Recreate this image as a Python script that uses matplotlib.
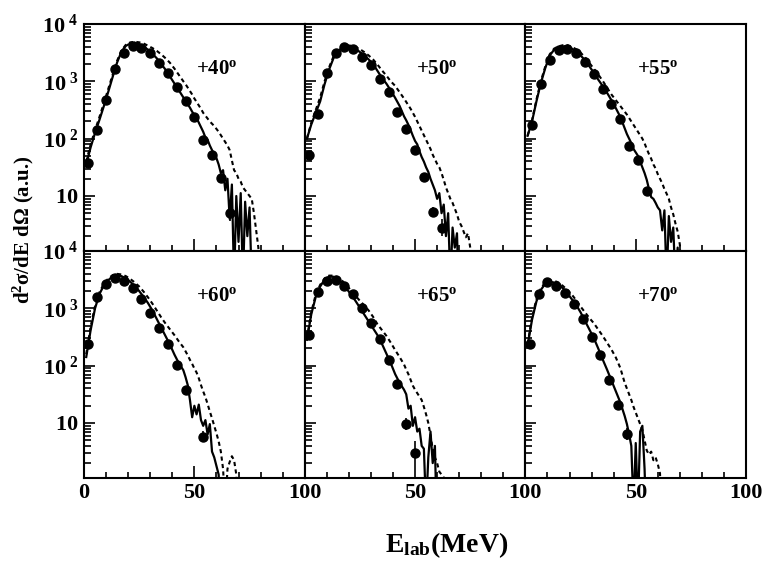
import numpy as np
import matplotlib.pyplot as plt
from matplotlib.ticker import FixedLocator, MultipleLocator, LogLocator, NullFormatter

plt.rcParams['font.family'] = ['Liberation Serif', 'DejaVu Serif']
plt.rcParams['font.weight'] = 'bold'
plt.rcParams['mathtext.fontset'] = 'custom'
plt.rcParams['mathtext.rm'] = 'Liberation Serif:bold'
plt.rcParams['mathtext.it'] = 'Liberation Serif:bold'
plt.rcParams['mathtext.bf'] = 'Liberation Serif:bold'

# ---------------- data (log10 of cross section) ----------------
ANGLES = ['+40', '+50', '+55', '+60', '+65', '+70']

# energy grid of the calculated spectra (MeV): 2 MeV steps, then 1 MeV in the tails
E_LINE = [1, 3, 5, 7, 9, 11, 13, 15, 17, 19, 21,
          23, 25, 27, 29, 31, 33, 35, 37, 39, 41, 43,
          45, 46, 47, 48, 49, 50, 51, 52, 53, 54,
          55, 56, 57, 58, 59, 60, 61, 62, 63, 64,
          65, 66, 67, 68, 69, 70, 71, 72, 73, 74,
          75, 76, 77, 78, 79, 80]

# +40 deg
E_DAT_40 = [2, 6, 10, 14, 18, 22, 26, 30, 34, 38, 42, 46, 50, 54, 58, 62, 66]
LG_DAT_40 = [1.58, 2.15, 2.67, 3.22, 3.50, 3.61, 3.585, 3.50, 3.32, 3.15, 2.90,
             2.65, 2.37, 1.98, 1.71, 1.32, 0.71]
ERR_40 = [0.03, 0.03, 0.03, 0.03, 0.03, 0.03, 0.03, 0.03, 0.03, 0.03, 0.03,
          0.03, 0.03, 0.03, 0.04, 0.05, 0.15]
LG_SOL_40 = [1.55, 1.85, 2.10, 2.33, 2.57, 2.82, 3.08, 3.33, 3.52, 3.62, 3.66,
             3.67, 3.65, 3.61, 3.55, 3.48, 3.40, 3.30, 3.20, 3.08, 2.96, 2.84,
             2.72, 2.66, 2.60, 2.54, 2.47, 2.41, 2.36, 2.28, 2.20, 2.12,
             2.02, 1.98, 1.88, 1.80, 1.72, 1.66, 1.55, 1.40, 1.45, 1.10,
             1.30, 0.60, 1.20, -0.5, 1.00, 0.20, 1.05, -0.5, 0.90, 0.30,
             0.80, -0.5, -1]
LG_DSH_40 = [1.60, 1.90, 2.15, 2.38, 2.62, 2.87, 3.12, 3.36, 3.54, 3.64, 3.68,
             3.69, 3.68, 3.66, 3.62, 3.58, 3.53, 3.47, 3.40, 3.32, 3.22, 3.11,
             3.00, 2.95, 2.89, 2.83, 2.77, 2.70, 2.64, 2.58, 2.52, 2.45,
             2.40, 2.35, 2.30, 2.26, 2.22, 2.17, 2.12, 2.06, 2.00, 1.94,
             1.88, 1.80, 1.62, 1.45, 1.40, 1.30, 1.25, 1.15, 1.10, 1.05,
             1.00, 0.95, 0.70, 0.40, 0.10, -1]

# +50 deg
E_DAT_50 = [2, 6, 10, 14, 18, 22, 26, 30, 34, 38, 42, 46, 50, 54, 58, 62]
LG_DAT_50 = [1.72, 2.43, 3.15, 3.49, 3.59, 3.56, 3.43, 3.29, 3.04, 2.81, 2.47,
             2.17, 1.81, 1.33, 0.72, 0.45]
ERR_50 = [0.03, 0.03, 0.03, 0.03, 0.03, 0.03, 0.03, 0.03, 0.03, 0.03, 0.03,
          0.03, 0.03, 0.05, 0.08, 0.15]
LG_SOL_50 = [2.00, 2.25, 2.45, 2.65, 2.95, 3.20, 3.40, 3.52, 3.59, 3.61, 3.60,
             3.57, 3.51, 3.45, 3.38, 3.30, 3.18, 3.06, 2.96, 2.84, 2.71, 2.57,
             2.39, 2.32, 2.24, 2.15, 2.05, 1.96, 1.90, 1.78, 1.68, 1.60,
             1.50, 1.42, 1.30, 1.20, 1.10, 0.95, 1.05, 0.70, 0.85, 0.30,
             0.70, -0.5, 0.45, 0.10, 0.35, -1]
LG_DSH_50 = [2.00, 2.28, 2.50, 2.72, 3.00, 3.24, 3.43, 3.55, 3.61, 3.63, 3.62,
             3.60, 3.56, 3.51, 3.45, 3.38, 3.29, 3.19, 3.10, 3.00, 2.92, 2.81,
             2.70, 2.64, 2.58, 2.52, 2.45, 2.38, 2.30, 2.22, 2.14, 2.06,
             1.98, 1.90, 1.82, 1.72, 1.64, 1.56, 1.50, 1.40, 1.28, 1.15,
             1.05, 0.95, 0.88, 0.78, 0.68, 0.55, 0.48, 0.38, 0.28, 0.35,
             0.10, -1]

# +55 deg
E_DAT_55 = [3, 7, 11, 15, 19, 23, 27, 31, 35, 39, 43, 47, 51, 55]
LG_DAT_55 = [2.23, 2.96, 3.37, 3.54, 3.57, 3.49, 3.34, 3.12, 2.87, 2.60, 2.35,
             1.88, 1.63, 1.09]
ERR_55 = [0.03, 0.03, 0.03, 0.03, 0.03, 0.03, 0.03, 0.03, 0.03, 0.03, 0.03,
          0.03, 0.03, 0.05]
LG_SOL_55 = [2.05, 2.30, 2.65, 2.97, 3.23, 3.45, 3.55, 3.59, 3.61, 3.61, 3.57,
             3.52, 3.45, 3.37, 3.26, 3.15, 3.03, 2.92, 2.80, 2.67, 2.53, 2.38,
             2.18, 2.08, 2.00, 1.92, 1.82, 1.76, 1.70, 1.60, 1.50, 1.40,
             1.28, 1.12, 0.98, 0.95, 0.88, 0.80, 0.75, 0.40, 0.75, -0.5,
             0.65, 0.20, 0.45, -0.5, 0.10, -1]
LG_DSH_55 = [2.05, 2.32, 2.68, 3.00, 3.26, 3.47, 3.57, 3.61, 3.63, 3.63, 3.60,
             3.56, 3.50, 3.42, 3.32, 3.22, 3.12, 3.01, 2.89, 2.77, 2.67, 2.57,
             2.47, 2.42, 2.36, 2.30, 2.24, 2.18, 2.12, 2.06, 2.00, 1.92,
             1.82, 1.73, 1.65, 1.55, 1.48, 1.38, 1.30, 1.22, 1.12, 1.04,
             0.95, 0.80, 0.68, 0.52, 0.38, 0.15, -1]

# +60 deg
E_DAT_60 = [2, 6, 10, 14, 18, 22, 26, 30, 34, 38, 42, 46, 54]
LG_DAT_60 = [2.38, 3.20, 3.43, 3.53, 3.48, 3.35, 3.16, 2.92, 2.65, 2.37, 2.01,
             1.58, 0.76]
ERR_60 = [0.03, 0.03, 0.03, 0.03, 0.03, 0.03, 0.03, 0.03, 0.03, 0.03, 0.03,
          0.04, 0.10]
LG_SOL_60 = [2.15, 2.62, 3.00, 3.25, 3.40, 3.49, 3.56, 3.58, 3.56, 3.52, 3.46,
             3.39, 3.30, 3.20, 3.09, 2.96, 2.81, 2.66, 2.51, 2.36, 2.19, 2.04,
             1.92, 1.80, 1.66, 1.40, 1.10, 1.30, 1.15, 1.32, 1.05, 0.95,
             1.05, 0.80, 0.98, 0.50, 0.40, 0.25, 0.10, -1]
LG_DSH_60 = [2.20, 2.68, 3.04, 3.28, 3.43, 3.52, 3.58, 3.60, 3.59, 3.56, 3.51,
             3.45, 3.38, 3.29, 3.19, 3.08, 2.96, 2.84, 2.73, 2.63, 2.53, 2.42,
             2.32, 2.25, 2.18, 2.10, 2.03, 1.95, 1.88, 1.78, 1.66, 1.55,
             1.45, 1.33, 1.20, 1.08, 0.95, 0.82, 0.68, 0.50, 0.20, -0.5,
             0.20, 0.32, 0.42, 0.35, 0.10, -1]

# +65 deg
E_DAT_65 = [2, 6, 10, 14, 18, 22, 26, 30, 34, 38, 42, 46, 50]
LG_DAT_65 = [2.53, 3.29, 3.48, 3.50, 3.39, 3.25, 3.00, 2.75, 2.47, 2.09, 1.68,
             0.98, 0.47]
ERR_65 = [0.03, 0.03, 0.03, 0.03, 0.03, 0.03, 0.03, 0.03, 0.03, 0.03, 0.03,
          0.10, 0.22]
LG_SOL_65 = [2.45, 2.90, 3.20, 3.38, 3.50, 3.55, 3.55, 3.52, 3.44, 3.34, 3.24,
             3.13, 3.01, 2.89, 2.77, 2.65, 2.53, 2.38, 2.21, 2.04, 1.85, 1.70,
             1.58, 1.50, 1.25, 1.30, 0.95, 1.10, 0.85, 0.90, 0.60, 0.55,
             -0.5, 0.40, 0.85, 0.30, 0.60, -1]
LG_DSH_65 = [2.48, 2.94, 3.24, 3.41, 3.52, 3.57, 3.57, 3.54, 3.48, 3.40, 3.31,
             3.22, 3.13, 3.05, 2.96, 2.85, 2.72, 2.62, 2.52, 2.40, 2.27, 2.15,
             2.02, 1.93, 1.85, 1.75, 1.65, 1.58, 1.52, 1.46, 1.40, 1.28,
             1.15, 1.00, 0.78, 0.55, 0.40, 0.30, 0.15, 0.10, 0.05, -1]

# +70 deg
E_DAT_70 = [2, 6, 10, 14, 18, 22, 26, 30, 34, 38, 42, 46]
LG_DAT_70 = [2.37, 3.25, 3.45, 3.39, 3.26, 3.07, 2.81, 2.50, 2.19, 1.75, 1.32,
             0.81]
ERR_70 = [0.03, 0.03, 0.03, 0.03, 0.03, 0.03, 0.03, 0.03, 0.03, 0.03, 0.05,
          0.10]
LG_SOL_70 = [2.35, 2.80, 3.12, 3.32, 3.43, 3.46, 3.45, 3.41, 3.35, 3.26, 3.16,
             3.06, 2.93, 2.78, 2.63, 2.48, 2.30, 2.11, 1.93, 1.74, 1.55, 1.36,
             1.12, 0.98, 0.80, 0.60, -0.5, 0.65, -0.5, 0.85, 0.95, 0.20,
             -1]
LG_DSH_70 = [2.38, 2.84, 3.16, 3.35, 3.45, 3.48, 3.48, 3.45, 3.39, 3.32, 3.24,
             3.14, 3.03, 2.93, 2.83, 2.74, 2.63, 2.52, 2.40, 2.28, 2.14, 1.96,
             1.70, 1.60, 1.50, 1.40, 1.28, 1.18, 1.08, 0.98, 0.88, 0.70,
             0.52, 0.45, 0.50, 0.35, 0.40, 0.28, 0.12, -1]

PANELS = [
    (E_DAT_40, LG_DAT_40, ERR_40, LG_SOL_40, LG_DSH_40),
    (E_DAT_50, LG_DAT_50, ERR_50, LG_SOL_50, LG_DSH_50),
    (E_DAT_55, LG_DAT_55, ERR_55, LG_SOL_55, LG_DSH_55),
    (E_DAT_60, LG_DAT_60, ERR_60, LG_SOL_60, LG_DSH_60),
    (E_DAT_65, LG_DAT_65, ERR_65, LG_SOL_65, LG_DSH_65),
    (E_DAT_70, LG_DAT_70, ERR_70, LG_SOL_70, LG_DSH_70),
]

Y_TICKS = [10, 100, 1000, 10000]
Y_LABELS = [r'$10$', r'$10^{\ 2}$', r'$10^{\ 3}$', r'$10^{\ 4}$']

# ---------------- plot ----------------
fig, axes = plt.subplots(2, 3, figsize=(7.66, 5.71), dpi=100)
fig.subplots_adjust(left=0.1097, right=0.974, top=0.958, bottom=0.163,
                    wspace=0, hspace=0)

for i, ax in enumerate(axes.flat):
    e_dat, lg_dat, err, lg_sol, lg_dsh = PANELS[i]
    row, col = divmod(i, 3)

    lg_sol = np.array(lg_sol)
    lg_dsh = np.array(lg_dsh)
    ax.plot(E_LINE[:len(lg_sol)], 10 ** lg_sol, color='k', lw=1.6)
    ax.plot(E_LINE[:len(lg_dsh)], 10 ** lg_dsh, color='k', lw=1.5,
            linestyle=(0, (2.0, 1.6)))

    lg = np.array(lg_dat)
    er = np.array(err)
    y = 10 ** lg
    ax.errorbar(e_dat, y, yerr=[y - 10 ** (lg - er), 10 ** (lg + er) - y],
                fmt='o', color='k', ms=6.5, elinewidth=1.2, capsize=0)

    ax.set_yscale('log')
    ax.set_ylim(1.1, 1e4)
    ax.set_xlim(0, 100)

    ax.yaxis.set_major_locator(FixedLocator(Y_TICKS))
    ax.yaxis.set_minor_locator(LogLocator(base=10, subs=np.arange(2, 10)))
    ax.yaxis.set_minor_formatter(NullFormatter())
    if col == 0:
        ax.set_yticklabels(Y_LABELS)
    else:
        ax.set_yticklabels([])

    ax.xaxis.set_major_locator(FixedLocator([0, 50, 100]))
    ax.xaxis.set_minor_locator(MultipleLocator(10))
    if row == 1:
        ax.set_xticklabels(['0', '50', '100'] if col == 0 else ['', '50', '100'])
    else:
        ax.set_xticklabels([])

    ax.tick_params(which='both', direction='in', top=False, right=False,
                   labelsize=16, width=1.2)
    ax.tick_params(axis='y', which='major', length=8, pad=4)
    ax.tick_params(axis='y', which='minor', length=5)
    ax.tick_params(axis='x', which='major', length=9, pad=4)
    ax.tick_params(axis='x', which='minor', length=4.5)
    for sp in ax.spines.values():
        sp.set_linewidth(1.5)

    ax.text(0.60, 0.80, r'$%s^{\mathrm{o}}$' % ANGLES[i], transform=ax.transAxes,
            ha='center', va='center', fontsize=15)

fig.text(0.030, 0.598, r'd$^2$σ/dE dΩ (a.u.)',
         rotation=90, ha='center', va='center', fontsize=15)
fig.text(0.583, 0.045, r'$\mathrm{E_{lab}(MeV)}$', ha='center', va='center',
         fontsize=20)

fig.savefig('out.png', dpi=100)
